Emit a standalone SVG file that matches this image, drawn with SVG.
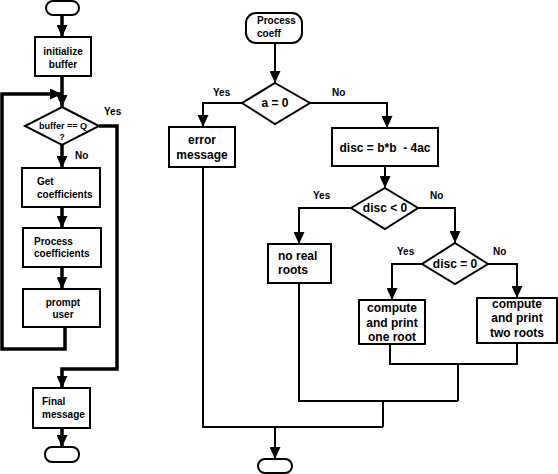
<svg xmlns="http://www.w3.org/2000/svg" width="558" height="474" viewBox="0 0 558 474">
<style>
text{font-family:"Liberation Sans",Arial,sans-serif;font-weight:bold;fill:#000}
.s9{font-size:9px}
.s10{font-size:10px}
.s12{font-size:12px}
.lbl{font-size:10px}
.c{text-anchor:middle}
.box{fill:#fff;stroke:#000;stroke-width:2}
.lc{fill:none;stroke:#000;stroke-width:3.5}
.rc{fill:none;stroke:#000;stroke-width:2}
</style>
<defs>
<marker id="ah" markerUnits="userSpaceOnUse" markerWidth="12" markerHeight="11" refX="12" refY="5.5" orient="auto" viewBox="0 0 12 11">
<path d="M0,0 L12,5.5 L0,11 z" fill="#000"/>
</marker>
</defs>
<rect width="558" height="474" fill="#fff"/>
<g id="connectors">
<path class="lc" d="M62,15 V37" marker-end="url(#ah)"/>
<path class="lc" d="M62,76 V107" marker-end="url(#ah)"/>
<path class="lc" d="M65,327 V349 H2 V94 H62" marker-end="url(#ah)"/>
<path class="lc" d="M62,145 V168" marker-end="url(#ah)"/>
<path class="lc" d="M62,207 V228" marker-end="url(#ah)"/>
<path class="lc" d="M62,267 V289" marker-end="url(#ah)"/>
<path class="lc" d="M99,126 H117 V369 H62 V388" marker-end="url(#ah)"/>
<path class="lc" d="M62,428 V447" marker-end="url(#ah)"/>
<path class="rc" d="M275,43 V83" marker-end="url(#ah)"/>
<path class="rc" d="M242,103 H203 V127" marker-end="url(#ah)"/>
<path class="rc" d="M310,103 H387 V128" marker-end="url(#ah)"/>
<path class="rc" d="M385,166 V188" marker-end="url(#ah)"/>
<path class="rc" d="M351,208 H299 V244" marker-end="url(#ah)"/>
<path class="rc" d="M418,208 H455 V243" marker-end="url(#ah)"/>
<path class="rc" d="M422,264 H392 V300" marker-end="url(#ah)"/>
<path class="rc" d="M488,264 H517 V298" marker-end="url(#ah)"/>
<path class="rc" d="M517,343 V364 H390 V344"/>
<path class="rc" d="M458,364 V401"/>
<path class="rc" d="M299,283 V401 H458"/>
<path class="rc" d="M383,401 V427"/>
<path class="rc" d="M203,167 V427 H383"/>
<path class="rc" d="M275,427 V459" marker-end="url(#ah)"/>
<text class="lbl" x="104" y="115">Yes</text>
<text class="lbl" x="75" y="159">No</text>
<text class="lbl" x="213" y="96">Yes</text>
<text class="lbl" x="332" y="96">No</text>
<text class="lbl" x="313" y="199">Yes</text>
<text class="lbl" x="430" y="199">No</text>
<text class="lbl" x="397" y="255">Yes</text>
<text class="lbl" x="493" y="255">No</text>
</g>
<g id="start1"><rect class="box" x="46" y="1" width="33" height="14" rx="7"/></g>
<g id="init"><rect class="box" x="35" y="37" width="56" height="39"/>
<text class="s10 c" x="63" y="55">initialize</text><text class="s10 c" x="63" y="68">buffer</text></g>
<g id="bufq"><polygon class="box" points="62,107 99,126 62,145 25,126"/>
<text class="s9 c" x="63" y="129">buffer == Q</text><text class="s9 c" x="62" y="140">?</text></g>
<g id="getc"><rect class="box" x="22" y="168" width="78" height="39"/>
<text class="s10" x="37" y="185">Get</text><text class="s10" x="37" y="198">coefficients</text></g>
<g id="procc"><rect class="box" x="23" y="228" width="78" height="39"/>
<text class="s10" x="34" y="245">Process</text><text class="s10" x="34" y="257">coefficients</text></g>
<g id="prompt"><rect class="box" x="23" y="289" width="77" height="38"/>
<text class="s10 c" x="63" y="306">prompt</text><text class="s10 c" x="63" y="318">user</text></g>
<g id="final"><rect class="box" x="33" y="388" width="57" height="40"/>
<text class="s10" x="42" y="405">Final</text><text class="s10" x="42" y="418">message</text></g>
<g id="end1"><rect class="box" x="45" y="447" width="34" height="15" rx="7"/></g>
<g id="pstart"><rect class="box" x="246" y="13" width="56" height="30" rx="10"/>
<text class="s10" x="257" y="24">Process</text><text class="s10" x="257" y="37">coeff</text></g>
<g id="a0"><polygon class="box" points="275,83 310,103 275,124 242,103"/>
<text class="s12 c" x="275" y="107">a = 0</text></g>
<g id="err"><rect class="box" x="169" y="127" width="66" height="40"/>
<text class="s12 c" x="202" y="144">error</text><text class="s12 c" x="202" y="159">message</text></g>
<g id="disc"><rect class="box" x="332" y="128" width="106" height="38"/>
<text class="s12 c" x="385" y="152" xml:space="preserve">disc = b*b  - 4ac</text></g>
<g id="dlt"><polygon class="box" points="385,188 418,208 385,229 351,208"/>
<text class="s12 c" x="385" y="212">disc &lt; 0</text></g>
<g id="noreal"><rect class="box" x="268" y="244" width="63" height="39"/>
<text class="s12" x="278" y="260">no real</text><text class="s12" x="278" y="274">roots</text></g>
<g id="deq"><polygon class="box" points="455,243 488,264 455,284 422,264"/>
<text class="s12 c" x="455" y="268">disc = 0</text></g>
<g id="one"><rect class="box" x="359" y="300" width="66" height="44"/>
<text class="s12 c" x="392" y="312">compute</text><text class="s12 c" x="392" y="327">and print</text><text class="s12 c" x="392" y="341">one root</text></g>
<g id="two"><rect class="box" x="477" y="298" width="80" height="45"/>
<text class="s12 c" x="517" y="308">compute</text><text class="s12 c" x="517" y="322">and print</text><text class="s12 c" x="517" y="337">two roots</text></g>
<g id="end2"><rect class="box" x="258" y="459" width="34" height="14" rx="7"/></g>
</svg>
